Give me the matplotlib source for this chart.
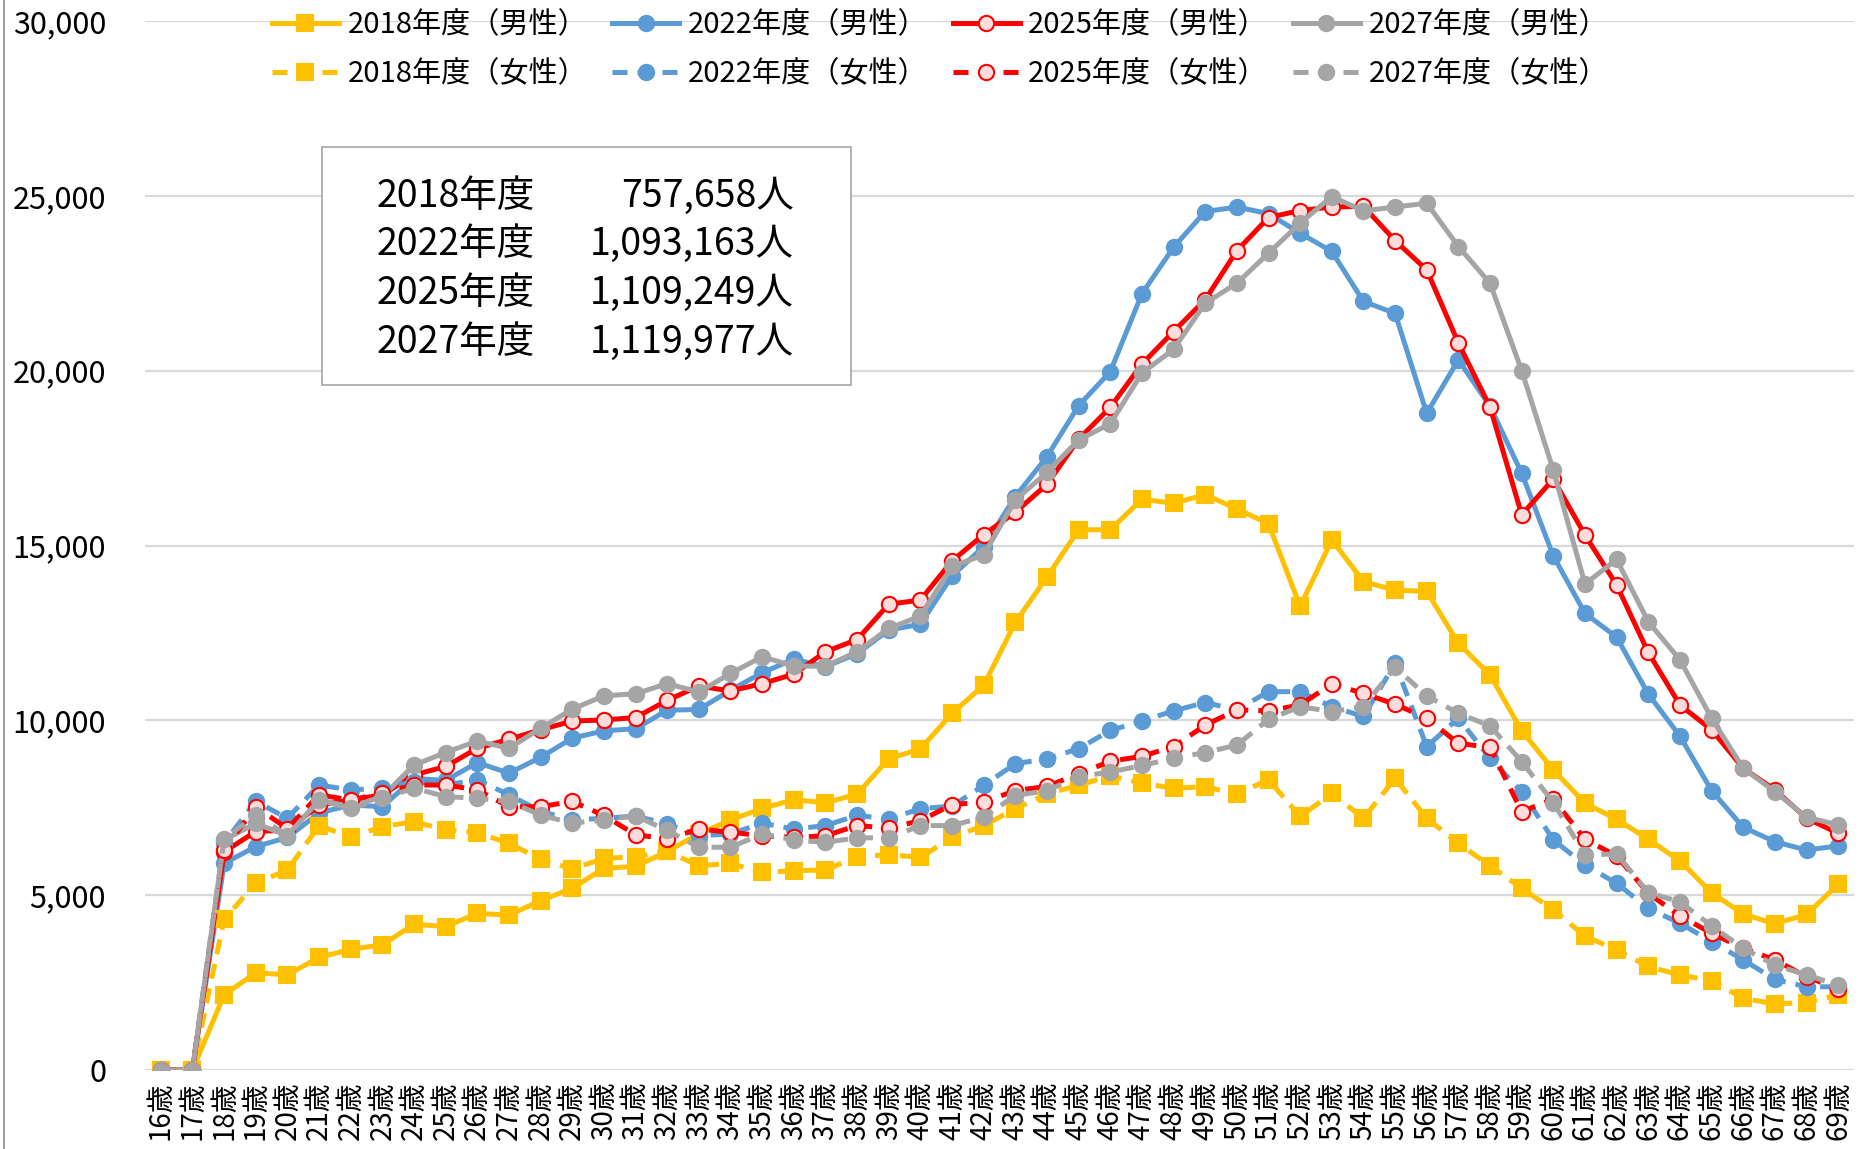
import matplotlib
matplotlib.use("Agg")
import matplotlib.pyplot as plt
from matplotlib.lines import Line2D
from matplotlib.patches import Rectangle
from matplotlib.ticker import FuncFormatter

plt.rcParams['font.family'] = ['Noto Sans CJK JP', 'DejaVu Sans']

ages = list(range(16, 70))
age_labels = [f"{a}歳" for a in ages]

# 男性
m2018 = [0, 0, 2150, 2780, 2720, 3220, 3450, 3580, 4170, 4100,
         4480, 4430, 4840, 5200, 5770, 5820, 6250, 6750, 7150, 7480,
         7730, 7640, 7890, 8900, 9180, 10200, 11000, 12800, 14100, 15450,
         15450, 16320, 16210, 16450, 16050, 15620, 13260, 15160, 13970, 13720,
         13690, 12200, 11300, 9700, 8580, 7630, 7170, 6600, 5980, 5070,
         4460, 4180, 4450, 5310]
m2022 = [0, 0, 5910, 6390, 6650, 7350, 7580, 7530, 8340, 8280,
         8790, 8490, 8940, 9490, 9700, 9760, 10290, 10310, 10860, 11360,
         11750, 11530, 11910, 12580, 12750, 14130, 14970, 16400, 17540, 19000,
         19970, 22200, 23530, 24550, 24680, 24490, 23930, 23410, 21980, 21640,
         18780, 20310, 18980, 17070, 14700, 13060, 12380, 10750, 9550, 7990,
         6940, 6530, 6290, 6410]
m2025 = [0, 0, 6240, 6820, 6860, 7580, 7720, 7870, 8440, 8680,
         9200, 9460, 9730, 9980, 10010, 10080, 10570, 10980, 10840, 11050,
         11320, 11960, 12310, 13320, 13440, 14560, 15310, 15950, 16750, 18040,
         18950, 20190, 21120, 22030, 23430, 24380, 24580, 24680, 24700, 23720,
         22880, 20790, 18960, 15880, 16900, 15300, 13870, 11940, 10440, 9730,
         8630, 8010, 7200, 6770]
m2027 = [0, 0, 6580, 7050, 6700, 7720, 7530, 7820, 8720, 9080,
         9410, 9200, 9770, 10320, 10700, 10760, 11050, 10810, 11340, 11820,
         11550, 11550, 11960, 12630, 12980, 14400, 14730, 16300, 17090, 18020,
         18480, 19930, 20610, 21930, 22500, 23360, 24220, 24980, 24570, 24680,
         24790, 23550, 22500, 20000, 17150, 13900, 14600, 12820, 11730, 10060,
         8630, 7960, 7230, 7010]

# 女性
f2018 = [0, 0, 4310, 5340, 5720, 6990, 6660, 6960, 7100, 6870,
         6790, 6480, 6030, 5750, 6050, 6100, 6250, 5840, 5910, 5650,
         5700, 5720, 6100, 6160, 6080, 6650, 6990, 7470, 7900, 8140,
         8420, 8200, 8060, 8100, 7890, 8300, 7250, 7910, 7200, 8340,
         7200, 6480, 5840, 5200, 4580, 3830, 3430, 2960, 2720, 2550,
         2050, 1890, 1930, 2150]
f2022 = [0, 0, 6500, 7680, 7200, 8150, 8010, 8060, 8250, 8150,
         8300, 7870, 7400, 7150, 7200, 7260, 7040, 6700, 6750, 7060,
         6890, 6990, 7280, 7180, 7470, 7550, 8140, 8760, 8900, 9190,
         9710, 9980, 10270, 10510, 10300, 10820, 10820, 10390, 10110, 11630,
         9250, 10060, 8910, 7960, 6580, 5860, 5340, 4620, 4200, 3670,
         3150, 2590, 2380, 2380]
f2025 = [0, 0, 6300, 7530, 6900, 7870, 7720, 7920, 8150, 8150,
         8010, 7530, 7530, 7680, 7280, 6730, 6610, 6890, 6800, 6700,
         6650, 6700, 6990, 6920, 7130, 7590, 7660, 7990, 8110, 8470,
         8830, 8970, 9250, 9860, 10300, 10270, 10440, 11040, 10770, 10460,
         10060, 9340, 9230, 7390, 7740, 6600, 6120, 5050, 4410, 3910,
         3480, 3150, 2670, 2310]
f2027 = [0, 0, 6600, 7300, 6700, 7720, 7480, 7770, 8060, 7820,
         7770, 7680, 7290, 7060, 7150, 7270, 6850, 6370, 6370, 6750,
         6580, 6510, 6640, 6640, 6990, 6990, 7230, 7850, 7990, 8390,
         8520, 8710, 8910, 9080, 9290, 10030, 10390, 10250, 10390, 11520,
         10700, 10200, 9840, 8820, 7650, 6150, 6180, 5070, 4810, 4120,
         3480, 3000, 2720, 2430]

years = ["2018年度", "2022年度", "2025年度", "2027年度"]
totals = ["757,658人", "1,093,163人", "1,109,249人", "1,119,977人"]

YELLOW = "#FFC000"
BLUE = "#5B9BD5"
RED = "#FF0000"
GRAY = "#A5A5A5"
PINK = "#FDDCDC"

W, H = 1864, 1149
fig = plt.figure(figsize=(W / 100, H / 100), dpi=100)
ax = fig.add_axes([145 / W, 1 - 1070 / H, (1854 - 145) / W, (1070 - 21) / H])

x = list(range(len(ages)))

styles = [
    (m2018, YELLOW, 's', YELLOW, YELLOW, '-', "2018年度（男性）"),
    (m2022, BLUE, 'o', BLUE, BLUE, '-', "2022年度（男性）"),
    (m2025, RED, 'o', PINK, RED, '-', "2025年度（男性）"),
    (m2027, GRAY, 'o', GRAY, GRAY, '-', "2027年度（男性）"),
    (f2018, YELLOW, 's', YELLOW, YELLOW, '--', "2018年度（女性）"),
    (f2022, BLUE, 'o', BLUE, BLUE, '--', "2022年度（女性）"),
    (f2025, RED, 'o', PINK, RED, '--', "2025年度（女性）"),
    (f2027, GRAY, 'o', GRAY, GRAY, '--', "2027年度（女性）"),
]

lines = []
for vals, col, mk, fc, ec, ls, lab in styles:
    ln, = ax.plot(x, vals, color=col, lw=3.6, linestyle=ls,
                  marker=mk, markersize=11 if mk == 'o' else 11.5,
                  markerfacecolor=fc, markeredgecolor=ec, markeredgewidth=1.5,
                  label=lab)
    if ls == '--':
        ln.set_dashes((3, 2))
    lines.append(ln)

ax.set_xlim(-0.5, len(ages) - 0.5)
ax.set_ylim(0, 30000)
ax.set_yticks(range(0, 30001, 5000))
ax.yaxis.set_major_formatter(FuncFormatter(lambda v, p: f"{int(v):,}"))
ax.set_xticks(x)
ax.set_xticklabels(age_labels, rotation=90, fontsize=20)
ax.tick_params(axis='y', labelsize=22, length=0, pad=28)
ax.tick_params(axis='x', length=0, pad=8)
ax.grid(axis='y', color='#D9D9D9', lw=1.6)
ax.set_axisbelow(True)
for s in ax.spines.values():
    s.set_visible(False)

# legend, filled column by column
order = [0, 4, 1, 5, 2, 6, 3, 7]
fig.legend([lines[i] for i in order], [lines[i].get_label() for i in order],
           ncol=4, loc='center', bbox_to_anchor=(940 / W, 1 - 50 / H),
           frameon=False, fontsize=21, handlelength=2.3, handletextpad=0.3,
           columnspacing=0.85, labelspacing=0.65, borderpad=0, numpoints=1)

# totals box
fig.add_artist(Rectangle((322 / W, 1 - 385 / H), 529 / W, 238 / H,
                         transform=fig.transFigure, facecolor='white',
                         edgecolor='#A6A6A6', lw=1.2, zorder=5))
for i, (yr, tot) in enumerate(zip(years, totals)):
    yy = 1 - (196 + i * 48.8) / H
    fig.text(377 / W, yy, yr, fontsize=27, va='center', ha='left', zorder=6)
    fig.text(794 / W, yy, tot, fontsize=27, va='center', ha='right', zorder=6)

# chart border on the left
fig.add_artist(Line2D([4 / W, 4 / W], [0, 1], transform=fig.transFigure,
                      color='#8C8C8C', lw=1.2))

fig.savefig("out.png", dpi=100)
